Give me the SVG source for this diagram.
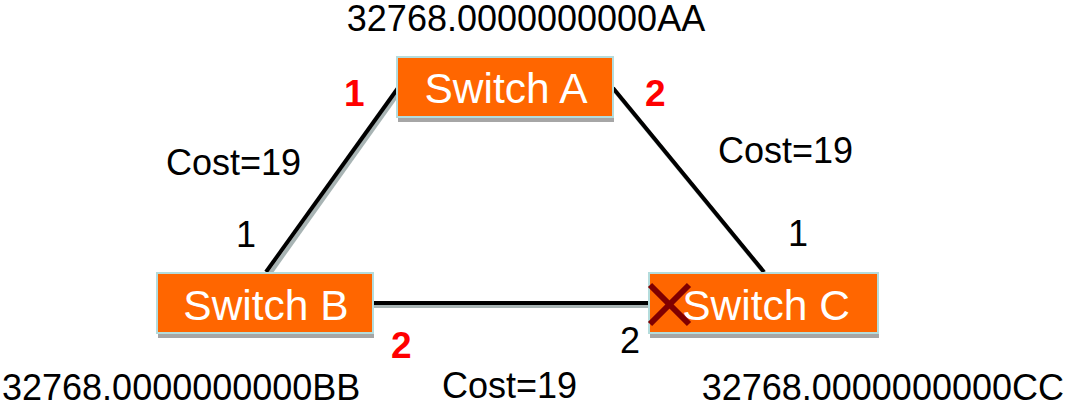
<svg xmlns="http://www.w3.org/2000/svg" width="1068" height="406" viewBox="0 0 1068 406">
<style>
.t{font-family:"Liberation Sans",Arial,sans-serif;font-size:36px;fill:#000}
.sw{font-family:"Liberation Sans",Arial,sans-serif;font-size:42.5px;fill:#fff;text-anchor:middle}
.r{font-family:"Liberation Sans",Arial,sans-serif;font-size:37px;font-weight:bold;fill:#ff0000}
.box{fill:#ff6600;stroke:#b4dcdc;stroke-width:2}
.shd{fill:#a6a6a6}
.ln{stroke:#000;stroke-width:4;fill:none}
.lns{stroke:#a8b4b4;stroke-width:4;fill:none}
.x{stroke:#800000;stroke-width:6}
</style>
<rect width="1068" height="406" fill="#fff"/>
<g id="connectors">
<line class="lns" x1="400" y1="91" x2="269" y2="275"/>
<line class="ln" x1="398" y1="88" x2="266" y2="272"/>
<line class="lns" x1="615" y1="91" x2="766" y2="275"/>
<line class="ln" x1="613" y1="88" x2="764" y2="272"/>
<line class="lns" x1="373" y1="306" x2="649" y2="306"/>
<line class="ln" x1="373" y1="303" x2="649" y2="303"/>
</g>
<g id="switchA">
<rect class="shd" x="398" y="61" width="216" height="61"/>
<rect class="box" x="397" y="57" width="216" height="60"/>
<text class="sw" x="506" y="103">Switch A</text>
</g>
<g id="switchB">
<rect class="shd" x="158" y="277" width="216" height="61"/>
<rect class="box" x="157" y="273" width="216" height="60"/>
<text class="sw" x="266" y="320">Switch B</text>
</g>
<g id="switchC">
<rect class="shd" x="650" y="277" width="229" height="61"/>
<rect class="box" x="649" y="273" width="229" height="60"/>
<text class="sw" x="766" y="320">Switch C</text>
<g id="blocked">
<line class="x" x1="650" y1="285" x2="689" y2="324"/>
<line class="x" x1="650" y1="324" x2="689" y2="285"/>
</g>
</g>
<g id="labels">
<text class="t" x="526" y="31" text-anchor="middle">32768.0000000000AA</text>
<text class="t" x="2" y="400">32768.0000000000BB</text>
<text class="t" x="1064" y="400" text-anchor="end">32768.0000000000CC</text>
<text class="r" x="344" y="106">1</text>
<text class="r" x="645" y="106">2</text>
<text class="t" x="166" y="175">Cost=19</text>
<text class="t" x="718" y="163">Cost=19</text>
<text class="t" x="442" y="398">Cost=19</text>
<text class="t" x="236" y="247">1</text>
<text class="t" x="788" y="246">1</text>
<text class="r" x="391" y="358">2</text>
<text class="t" x="620" y="353">2</text>
</g>
</svg>
